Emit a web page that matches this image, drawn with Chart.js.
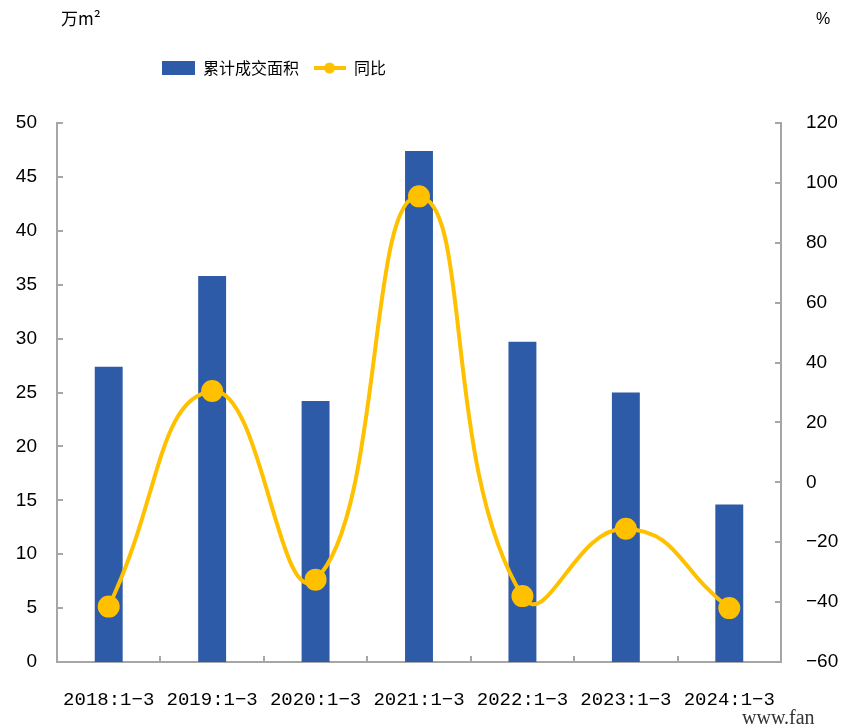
<!DOCTYPE html>
<html>
<head>
<meta charset="utf-8">
<script src="https://cdn.jsdelivr.net/npm/chart.js@4.4.1/dist/chart.umd.min.js"></script>
<style>
  html, body { margin: 0; padding: 0; background: #fff; }
  #wrap { width: 845px; height: 727px; }
</style>
</head>
<body>
<div id="wrap"><canvas id="chart" width="845" height="727"></canvas></div>
<script>
// data
const categories = ['2018:1−3', '2019:1−3', '2020:1−3', '2021:1−3', '2022:1−3', '2023:1−3', '2024:1−3'];
const areaValues = [27.4, 35.8, 24.2, 47.4, 29.7, 25.0, 14.6];   // 万m²
const yoyValues = [-41.5, 30.5, -32.5, 95.5, -38.0, -15.5, -42.0]; // %
const seriesNames = ['累计成交面积', '同比'];

const BAR = '#2E5BA8';
const LINE = '#FFC000';
const AXIS = '#A6A6A6';

// legend swatches: a wide box for the bars, a line with a dot for the line
function makeBoxSwatch() {
    const c = document.createElement('canvas');
    c.width = 33; c.height = 14;
    const g = c.getContext('2d');
    g.fillStyle = BAR;
    g.fillRect(0, 0, 33, 14);
    return c;
}
function makeLineSwatch() {
    const c = document.createElement('canvas');
    c.width = 32; c.height = 14;
    const g = c.getContext('2d');
    g.strokeStyle = LINE;
    g.lineWidth = 4;
    g.beginPath(); g.moveTo(0, 7); g.lineTo(32, 7); g.stroke();
    g.fillStyle = LINE;
    g.beginPath(); g.arc(16, 7, 5.5, 0, Math.PI * 2); g.fill();
    return c;
}
const boxSwatch = makeBoxSwatch();
const lineSwatch = makeLineSwatch();

// inward tick marks on the three axes, plus unit labels and watermark
const axisMarks = {
    id: 'axisMarks',
    afterLayout(chart) {
        // put the legend where the original has it
        const lg = chart.legend;
        const dx = 148 - lg.left;
        lg.left += dx;
        lg.right += dx;
        const dy = 46 - lg.top;
        lg.top += dy;
        lg.bottom += dy;
    },
    afterDraw(chart) {
        const ctx = chart.ctx;
        const a = chart.chartArea;
        const yl = chart.scales.y;
        const yr = chart.scales.y1;
        const x = chart.scales.x;
        ctx.save();
        ctx.strokeStyle = AXIS;
        ctx.lineWidth = 2;
        ctx.beginPath();
        yl.ticks.forEach(t => {
            const p = Math.round(yl.getPixelForValue(t.value));
            ctx.moveTo(a.left, p); ctx.lineTo(a.left + 6, p);
        });
        yr.ticks.forEach(t => {
            const p = Math.round(yr.getPixelForValue(t.value));
            ctx.moveTo(a.right, p); ctx.lineTo(a.right - 6, p);
        });
        for (let i = 1; i < categories.length; i++) {
            const p = Math.round((x.getPixelForValue(i - 1) + x.getPixelForValue(i)) / 2);
            ctx.moveTo(p, a.bottom); ctx.lineTo(p, a.bottom - 6);
        }
        ctx.stroke();

        ctx.fillStyle = '#000';
        ctx.textBaseline = 'middle';
        ctx.textAlign = 'left';
        ctx.font = '17px "Noto Sans CJK SC"';
        ctx.fillText('万m²', 61, 19);
        ctx.font = '16px "Liberation Sans"';
        ctx.fillText('%', 816, 20);

        ctx.font = '20px "Liberation Serif"';
        ctx.fillStyle = '#333';
        ctx.textBaseline = 'alphabetic';
        ctx.fillText('www.fan', 742, 724);
        ctx.restore();
    }
};

const ctx = document.getElementById('chart').getContext('2d');
new Chart(ctx, {
    data: {
        labels: categories,
        datasets: [
            {
                type: 'line',
                label: seriesNames[1],
                data: yoyValues,
                yAxisID: 'y1',
                borderColor: LINE,
                backgroundColor: LINE,
                borderWidth: 4,
                tension: 0.5,
                pointRadius: 9,
                pointBackgroundColor: LINE,
                pointBorderColor: LINE,
                order: 0
            },
            {
                type: 'bar',
                label: seriesNames[0],
                data: areaValues,
                yAxisID: 'y',
                backgroundColor: BAR,
                barPercentage: 0.27,
                categoryPercentage: 1,
                order: 1
            }
        ]
    },
    options: {
        responsive: false,
        animation: false,
        layout: { padding: { top: 83, left: 0, right: 0, bottom: 0 } },
        plugins: {
            tooltip: { enabled: false },
            legend: {
                align: 'start',
                reverse: true,
                labels: {
                    usePointStyle: true,
                    pointStyleWidth: 33,
                    padding: 14,
                    color: '#000',
                    font: { family: '"Noto Sans CJK SC"', size: 16 },
                    generateLabels(chart) {
                        const items = Chart.defaults.plugins.legend.labels.generateLabels(chart);
                        items.forEach(it => {
                            it.pointStyle = it.datasetIndex === 1 ? boxSwatch : lineSwatch;
                        });
                        return items;
                    }
                }
            }
        },
        scales: {
            x: {
                grid: { display: false, drawTicks: false },
                border: { color: AXIS, width: 2 },
                ticks: {
                    padding: 27,
                    color: '#000',
                    maxRotation: 0,
                    autoSkip: false,
                    font: { family: '"Liberation Mono"', size: 19 }
                },
                afterFit(s) { s.height = 65; }
            },
            y: {
                position: 'left',
                min: 0, max: 50,
                grid: { display: false, drawTicks: false },
                border: { color: AXIS, width: 2 },
                ticks: {
                    stepSize: 5,
                    padding: 20,
                    color: '#000',
                    font: { family: '"Liberation Sans"', size: 19 }
                },
                afterFit(s) { s.width = 57; }
            },
            y1: {
                position: 'right',
                min: -60, max: 120,
                grid: { display: false, drawTicks: false },
                border: { color: AXIS, width: 2 },
                ticks: {
                    stepSize: 20,
                    padding: 25,
                    color: '#000',
                    font: { family: '"Liberation Sans"', size: 19 },
                    callback: v => String(v).replace('-', '−')
                },
                afterFit(s) { s.width = 64; }
            }
        }
    },
    plugins: [axisMarks]
});
</script>
</body>
</html>
